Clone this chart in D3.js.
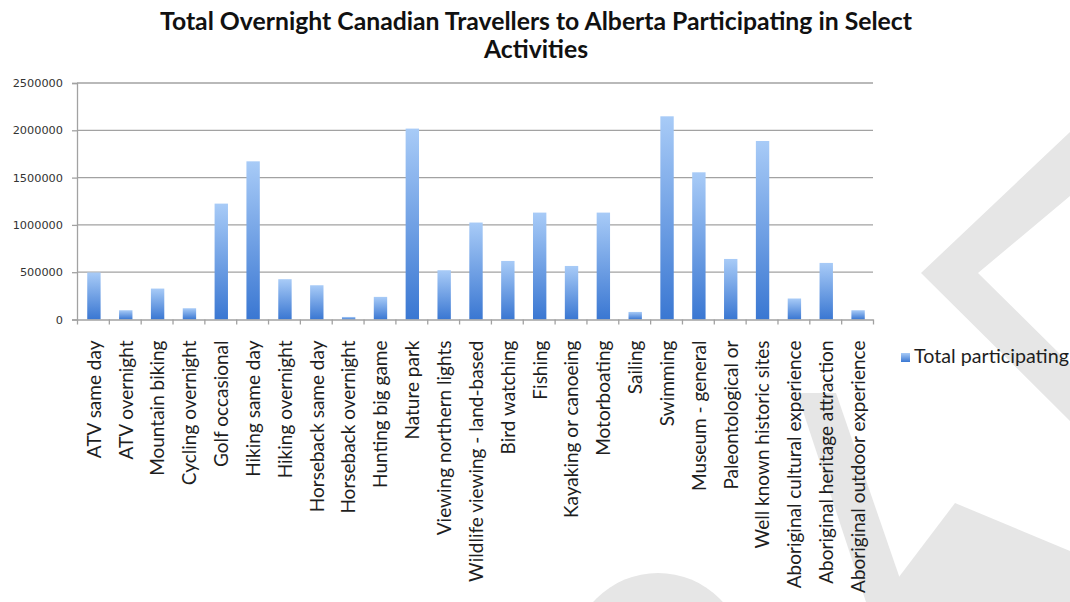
<!DOCTYPE html>
<html>
<head>
<meta charset="utf-8">
<script src="https://cdn.jsdelivr.net/npm/d3@7/dist/d3.min.js"></script>
<style>
  html, body { margin: 0; padding: 0; background: #fff; }
  svg { display: block; }
</style>
</head>
<body>
<svg id="chart" width="1070" height="602"></svg>
<script>
// Activities and the number of travellers taking part in each
const categories = [
  "ATV same day", "ATV overnight", "Mountain biking", "Cycling overnight",
  "Golf occasional", "Hiking same day", "Hiking overnight", "Horseback same day",
  "Horseback overnight", "Hunting big game", "Nature park", "Viewing northern lights",
  "Wildlife viewing - land-based", "Bird watching", "Fishing", "Kayaking or canoeing",
  "Motorboating", "Sailing", "Swimming", "Museum - general", "Paleontological or",
  "Well known historic sites", "Aboriginal cultural experience",
  "Aboriginal heritage attraction", "Aboriginal outdoor experience"
];
const totalParticipating = [
  497000, 98000, 327000, 119000,
  1225000, 1672000, 426000, 362000,
  27000, 239000, 2018000, 521000,
  1025000, 619000, 1130000, 566000,
  1130000, 80000, 2148000, 1556000, 640000,
  1887000, 222000,
  598000, 98000
];
const yTicks = [0, 500000, 1000000, 1500000, 2000000, 2500000];
const seriesName = "Total participating";
const titleLines = [
  "Total Overnight Canadian Travellers to Alberta Participating in Select",
  "Activities"
];

const svg = d3.select("#chart");
const W = 1070, H = 602;
const plot = { left: 77, right: 873, top: 83, bottom: 319.5 };

// soft grey backdrop shapes
const bg = svg.append("g").attr("fill", "#e6e6e6");
const backdrop = [
  [[1070,132],[921,273],[1070,421],[1070,364],[978,273],[1070,196]],
  [[797,393],[836,393],[908,602],[866,602]],
  [[880,602],[955,503],[1070,551],[1070,602]]
];
backdrop.forEach(p => bg.append("path").attr("d", d3.line()(p) + "Z"));
bg.append("circle").attr("cx", 658).attr("cy", 660).attr("r", 87);

const defs = svg.append("defs");
const grad = defs.append("linearGradient")
  .attr("id", "barFill").attr("x1", 0).attr("y1", 0).attr("x2", 0).attr("y2", 1);
grad.append("stop").attr("offset", "0%").attr("stop-color", "#a8cbf7");
grad.append("stop").attr("offset", "100%").attr("stop-color", "#3a77d2");

const x = d3.scaleBand()
  .domain(categories)
  .range([plot.left, plot.right])
  .paddingInner(0.58)
  .paddingOuter(0.29);
const xEdges = d3.scaleLinear().domain([0, categories.length]).range([plot.left, plot.right]);
const y = d3.scaleLinear().domain([0, 2500000]).range([plot.bottom, plot.top]);

const axisColor = "#a2a2a2";

// horizontal gridlines
svg.append("g")
  .selectAll("line")
  .data(yTicks.filter(d => d > 0))
  .join("line")
  .attr("x1", plot.left).attr("x2", plot.right)
  .attr("y1", d => y(d)).attr("y2", d => y(d))
  .attr("stroke", axisColor).attr("stroke-width", 1.3);

// bars
svg.append("g")
  .selectAll("rect")
  .data(categories.map((c, i) => ({ c, v: totalParticipating[i] })))
  .join("rect")
  .attr("x", d => x(d.c) + 1)
  .attr("width", x.bandwidth())
  .attr("y", d => y(d.v))
  .attr("height", d => y(0) - y(d.v))
  .attr("fill", "url(#barFill)");

// y axis
const yAxis = svg.append("g")
  .attr("transform", `translate(${plot.left},0)`)
  .call(d3.axisLeft(y).tickValues(yTicks).tickFormat(d3.format("d")).tickSize(5).tickPadding(9));
yAxis.select(".domain").attr("stroke", axisColor).attr("stroke-width", 1.3);
yAxis.selectAll(".tick line").attr("stroke", axisColor).attr("stroke-width", 1.3);
yAxis.selectAll("text")
  .attr("fill", "#333")
  .style("font-family", "'DejaVu Sans', sans-serif")
  .style("font-size", "11.3px");

// x axis: boundary ticks
const xTickAxis = svg.append("g")
  .attr("transform", `translate(0,${plot.bottom})`)
  .call(d3.axisBottom(xEdges).tickValues(d3.range(categories.length + 1)).tickFormat("").tickSize(5).tickSizeOuter(0));
xTickAxis.select(".domain").attr("stroke", axisColor).attr("stroke-width", 1.3);
xTickAxis.selectAll(".tick line").attr("stroke", axisColor).attr("stroke-width", 1.3);

// x axis: rotated category labels
const labelFont = "Lato, 'Open Sans', sans-serif";
const xLabelAxis = svg.append("g")
  .attr("transform", `translate(1,${plot.bottom})`)
  .call(d3.axisBottom(x).tickSize(0).tickPadding(0));
xLabelAxis.select(".domain").remove();
const xLabels = xLabelAxis.selectAll("text")
  .attr("fill", "#1e1e1e")
  .style("font-family", labelFont)
  .style("font-size", "16px")
  .attr("text-anchor", "end")
  .attr("transform", "rotate(-90)")
  .attr("x", -21)
  .attr("y", 0)
  .attr("dy", "0.36em");

// size label text so that the longest labels reach the same length
function fitSize(sel, target, base) {
  const len = sel.node().getComputedTextLength();
  return base * target / len;
}
const refLabel = xLabels.filter(d => d === "Well known historic sites");
const labelSize = fitSize(refLabel, 208, 16);
xLabels.style("font-size", labelSize + "px");

// title
const title = svg.append("g")
  .attr("fill", "#111")
  .style("font-family", labelFont)
  .style("font-weight", "bold");
const t1 = title.append("text").attr("x", 536).attr("y", 30).attr("text-anchor", "middle")
  .style("font-size", "20px").text(titleLines[0]);
const titleSize = fitSize(t1, 752, 20);
t1.style("font-size", titleSize + "px");
title.append("text").attr("x", 536).attr("y", 58).attr("text-anchor", "middle")
  .style("font-size", titleSize + "px").text(titleLines[1]);

// legend
const legend = svg.append("g").attr("transform", "translate(901,353)");
legend.append("rect").attr("width", 9).attr("height", 9).attr("fill", "url(#barFill)");
const lt = legend.append("text").attr("x", 13).attr("y", 10)
  .attr("fill", "#1e1e1e")
  .style("font-family", labelFont).style("font-size", "16px").text(seriesName);
lt.style("font-size", fitSize(lt, 155, 16) + "px");
</script>
</body>
</html>
